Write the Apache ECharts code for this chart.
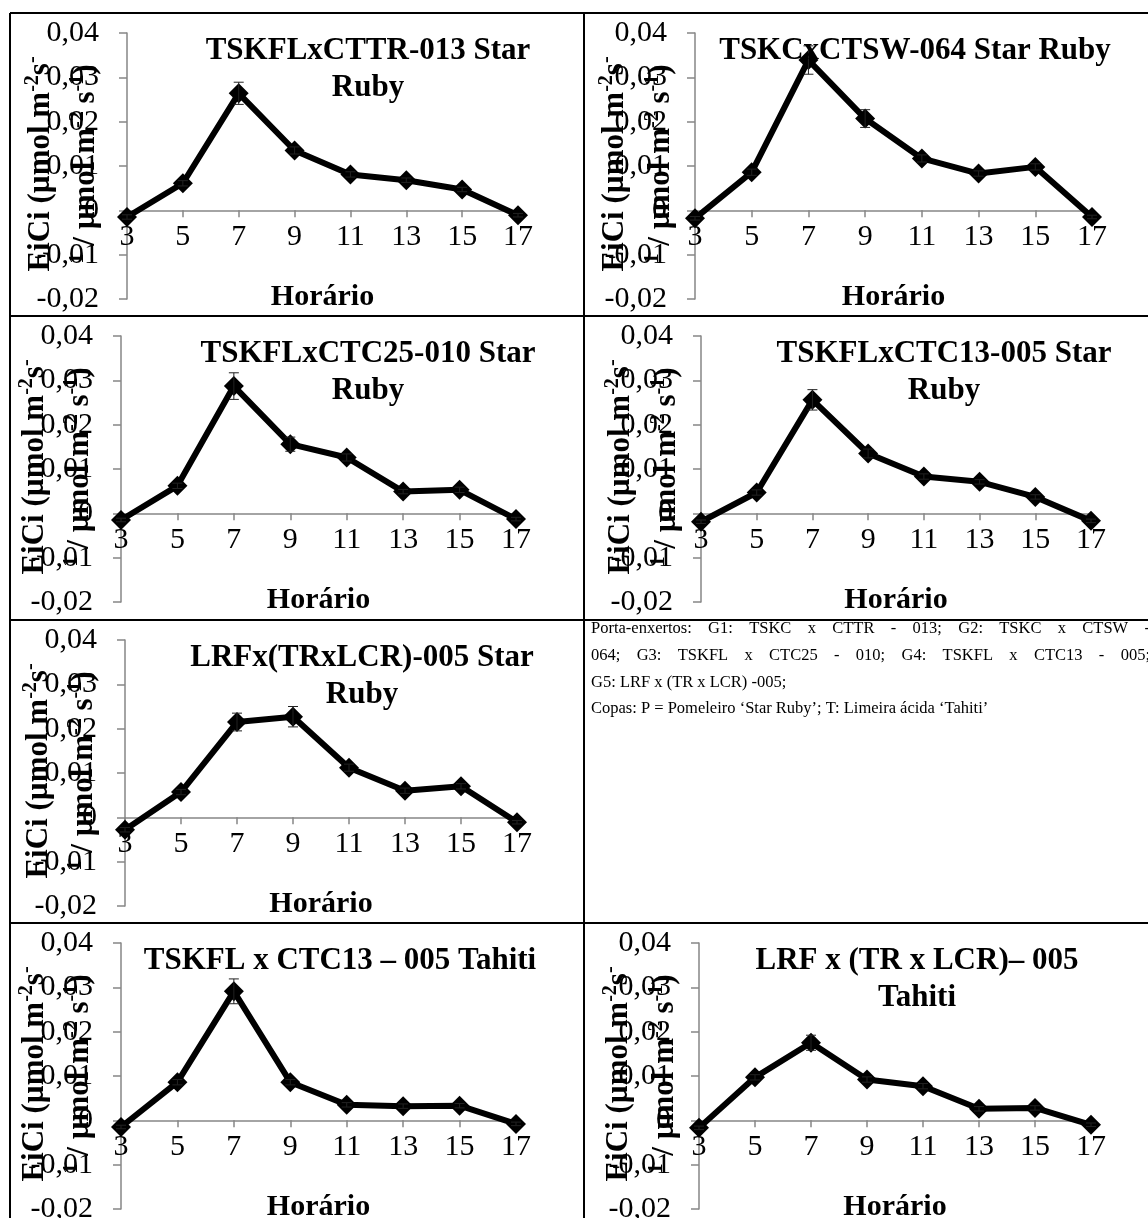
<!DOCTYPE html>
<html>
<head>
<meta charset="utf-8">
<script src="https://cdn.jsdelivr.net/npm/echarts@6/dist/echarts.min.js"></script>
<style>
  html, body { margin: 0; padding: 0; background: #ffffff; }
  #chart { width: 1148px; height: 1218px; }
</style>
</head>
<body>
<div id="chart"></div>
<script>
// Sampling hours (x axis)
const hours = ['3', '5', '7', '9', '11', '13', '15', '17'];

// EiCi means and standard errors for each rootstock x scion combination
const g1StarRuby    = [-0.0015, 0.0061, 0.0264, 0.0135, 0.0081, 0.0068, 0.0047, -0.0011];
const g1StarRubyErr = [0.0005, 0.0006, 0.0025, 0.0008, 0.0006, 0.0005, 0.0005, 0.0004];

const g2StarRuby    = [-0.0018, 0.0086, 0.0339, 0.0207, 0.0117, 0.0083, 0.0098, -0.0015];
const g2StarRubyErr = [0.0004, 0.0007, 0.0032, 0.0020, 0.0008, 0.0006, 0.0007, 0.0004];

const g3StarRuby    = [-0.0015, 0.0062, 0.0287, 0.0156, 0.0126, 0.0049, 0.0053, -0.0013];
const g3StarRubyErr = [0.0004, 0.0006, 0.0030, 0.0016, 0.0008, 0.0005, 0.0006, 0.0004];

const g4StarRuby    = [-0.0019, 0.0047, 0.0256, 0.0135, 0.0083, 0.0071, 0.0037, -0.0017];
const g4StarRubyErr = [0.0004, 0.0006, 0.0023, 0.0010, 0.0006, 0.0005, 0.0005, 0.0004];

const g5StarRuby    = [-0.0028, 0.0057, 0.0215, 0.0227, 0.0112, 0.0060, 0.0070, -0.0011];
const g5StarRubyErr = [0.0005, 0.0006, 0.0020, 0.0023, 0.0008, 0.0006, 0.0006, 0.0004];

const g4Tahiti      = [-0.0015, 0.0086, 0.0291, 0.0086, 0.0035, 0.0032, 0.0033, -0.0008];
const g4TahitiErr   = [0.0004, 0.0006, 0.0028, 0.0006, 0.0005, 0.0005, 0.0005, 0.0004];

const g5Tahiti      = [-0.0017, 0.0097, 0.0175, 0.0092, 0.0077, 0.0026, 0.0028, -0.0010];
const g5TahitiErr   = [0.0004, 0.0006, 0.0017, 0.0006, 0.0006, 0.0005, 0.0005, 0.0004];

// Panel titles
const panelTitles = [
  'TSKFLxCTTR-013 Star\nRuby',
  'TSKCxCTSW-064 Star Ruby',
  'TSKFLxCTC25-010 Star\nRuby',
  'TSKFLxCTC13-005 Star\nRuby',
  'LRFx(TRxLCR)-005 Star\nRuby',
  'TSKFL x CTC13 \u2013 005 Tahiti',
  'LRF x (TR x LCR)\u2013 005\nTahiti'
];

// Y axis range and step
const yMin = -0.02;
const yMax = 0.04;
const yStep = 0.01;

const xAxisTitle = 'Hor\u00e1rio';
// y axis title, two lines; {s|..} marks superscript pieces
const yAxisTitleLines = [
  '{n|EiCi (\u00b5mol m}{s|-2}{n|s}{s|-}',
  '{s|1}{n| / \u00b5mol m}{s|-2}{n| s}{s|-1}{n|)}'
];

// Legend note in the free cell
const noteParagraph1 = [
  'Porta-enxertos: G1: TSKC x CTTR - 013; G2: TSKC x CTSW -',
  '064; G3: TSKFL x CTC25 - 010; G4: TSKFL x CTC13 - 005;',
  'G5: LRF x (TR x LCR) -005;'
];
const noteParagraph2 = ['Copas: P = Pomeleiro \u2018Star Ruby\u2019; T: Limeira \u00e1cida \u2018Tahiti\u2019'];

const panelValues = [g1StarRuby, g2StarRuby, g3StarRuby, g4StarRuby, g5StarRuby, g4Tahiti, g5Tahiti];
const panelErrors = [g1StarRubyErr, g2StarRubyErr, g3StarRubyErr, g4StarRubyErr, g5StarRubyErr, g4TahitiErr, g5TahitiErr];

// ---- layout of the table cells ----
const rowTops = [13, 316, 620, 923];
// [row, col, plotLeft, plotRight, titleCenterX]
const slots = [
  [0, 0, 127, 518, 368],
  [0, 1, 695, 1092, 915],
  [1, 0, 121, 516, 368],
  [1, 1, 701, 1091, 944],
  [2, 0, 125, 517, 362],
  [3, 0, 121, 516, 340],
  [3, 1, 699, 1091, 917]
];

const SERIF = '"Liberation Serif", "Times New Roman", Times, serif';
const AXIS_GRAY = '#868686';
const PLOT_HEIGHT = 266;
// the category axis sits on y = 0, i.e. 2/6 of the plot height above the bottom
const zeroOffset = PLOT_HEIGHT * (0 - yMin) / (yMax - yMin);

const grids = [], xAxes = [], yAxes = [], series = [], graphics = [];

slots.forEach((s, i) => {
  const [row, col, left, right, titleX] = s;
  const top = rowTops[row] + 20;
  grids.push({
    left: left, top: top, width: right - left, height: PLOT_HEIGHT,
    containLabel: false, outerBoundsMode: 'none'
  });

  xAxes.push({
    type: 'category', gridIndex: i, data: hours, boundaryGap: false,
    position: 'bottom', offset: -zeroOffset,
    axisLine: { onZero: false, lineStyle: { color: AXIS_GRAY, width: 1.5 } },
    axisTick: { show: true, length: 7, lineStyle: { color: AXIS_GRAY, width: 1.5 } },
    axisLabel: { color: '#000', fontFamily: SERIF, fontSize: 30, margin: 12 },
    splitLine: { show: false },
    name: xAxisTitle, nameLocation: 'middle', nameGap: 72,
    nameTextStyle: { color: '#000', fontFamily: SERIF, fontSize: 30, fontWeight: 'bold' }
  });

  yAxes.push({
    type: 'value', gridIndex: i, min: yMin, max: yMax, interval: yStep,
    axisLine: { show: true, lineStyle: { color: AXIS_GRAY, width: 1.5 } },
    axisTick: { show: true, length: 8, lineStyle: { color: AXIS_GRAY, width: 1.5 } },
    axisLabel: {
      color: '#000', fontFamily: SERIF, fontSize: 30, margin: 28,
      formatter: v => Math.abs(v) < 1e-9 ? '0' : v.toFixed(2).replace('.', ',')
    },
    splitLine: { show: false }
  });

  series.push({
    type: 'line', xAxisIndex: i, yAxisIndex: i,
    data: panelValues[i],
    symbol: 'diamond', symbolSize: 20,
    lineStyle: { color: '#000', width: 6 },
    itemStyle: { color: '#000' },
    silent: true, animation: false, z: 3
  });

  series.push({
    type: 'custom', xAxisIndex: i, yAxisIndex: i,
    data: panelValues[i].map((v, k) => [k, v, panelErrors[i][k]]),
    renderItem: (params, api) => {
      const x = api.value(0), y = api.value(1), e = api.value(2);
      const hi = api.coord([x, y + e]);
      const lo = api.coord([x, y - e]);
      const w = 5;
      const st = { stroke: '#222', lineWidth: 1 };
      return {
        type: 'group',
        children: [
          { type: 'line', shape: { x1: hi[0], y1: hi[1], x2: lo[0], y2: lo[1] }, style: st },
          { type: 'line', shape: { x1: hi[0] - w, y1: hi[1], x2: hi[0] + w, y2: hi[1] }, style: st },
          { type: 'line', shape: { x1: lo[0] - w, y1: lo[1], x2: lo[0] + w, y2: lo[1] }, style: st }
        ]
      };
    },
    silent: true, animation: false, z: 4
  });

  // panel title
  graphics.push({
    type: 'text', x: titleX, y: rowTops[row] + 19.5, z: 10,
    style: {
      text: panelTitles[i], align: 'center', verticalAlign: 'top',
      font: 'bold 31px ' + SERIF, lineHeight: 37, fill: '#000'
    }
  });

  // rotated y axis title, two lines
  const off = col === 0 ? [86, 41] : [80, 34];
  yAxisTitleLines.forEach((line, j) => {
    graphics.push({
      type: 'text', x: left - off[j], y: top + PLOT_HEIGHT / 2 - 2, rotation: Math.PI / 2, z: 10,
      style: {
        text: line, align: 'center', verticalAlign: 'middle', fill: '#000',
        rich: {
          n: { fontFamily: SERIF, fontWeight: 'bold', fontSize: 31, lineHeight: 36, fill: '#000' },
          s: { fontFamily: SERIF, fontWeight: 'bold', fontSize: 20, lineHeight: 22, verticalAlign: 'top', fill: '#000' }
        }
      }
    });
  });
});

// table borders
const borderStyle = { stroke: '#000', lineWidth: 2 };
rowTops.forEach(y => {
  graphics.push({ type: 'line', shape: { x1: 10, y1: y, x2: 1148, y2: y }, style: borderStyle, z: 20 });
});
[10, 584].forEach(x => {
  graphics.push({ type: 'line', shape: { x1: x, y1: 13, x2: x, y2: 1218 }, style: borderStyle, z: 20 });
});

// note text: first paragraph justified to the cell width
const NOTE_FONT = '16.5px ' + SERIF;
const measureCtx = document.createElement('canvas').getContext('2d');
measureCtx.font = NOTE_FONT;
const noteLeft = 591, noteRight = 1150;
const noteLineYs = [629, 656, 683, 709];
const allNoteLines = noteParagraph1.concat(noteParagraph2);
allNoteLines.forEach((line, li) => {
  const justify = li < noteParagraph1.length - 1;
  const y = noteLineYs[li];
  if (!justify) {
    graphics.push({ type: 'text', x: noteLeft, y: y, z: 10,
      style: { text: line, font: NOTE_FONT, fill: '#000', align: 'left', verticalAlign: 'middle' } });
    return;
  }
  const words = line.split(' ');
  const widths = words.map(w => measureCtx.measureText(w).width);
  const total = widths.reduce((a, b) => a + b, 0);
  const gap = (noteRight - noteLeft - total) / (words.length - 1);
  let x = noteLeft;
  words.forEach((w, k) => {
    graphics.push({ type: 'text', x: x, y: y, z: 10,
      style: { text: w, font: NOTE_FONT, fill: '#000', align: 'left', verticalAlign: 'middle' } });
    x += widths[k] + gap;
  });
});

const chart = echarts.init(document.getElementById('chart'), null, { renderer: 'canvas' });
chart.setOption({
  backgroundColor: '#ffffff',
  animation: false,
  grid: grids,
  xAxis: xAxes,
  yAxis: yAxes,
  series: series,
  graphic: graphics
});
</script>
</body>
</html>
